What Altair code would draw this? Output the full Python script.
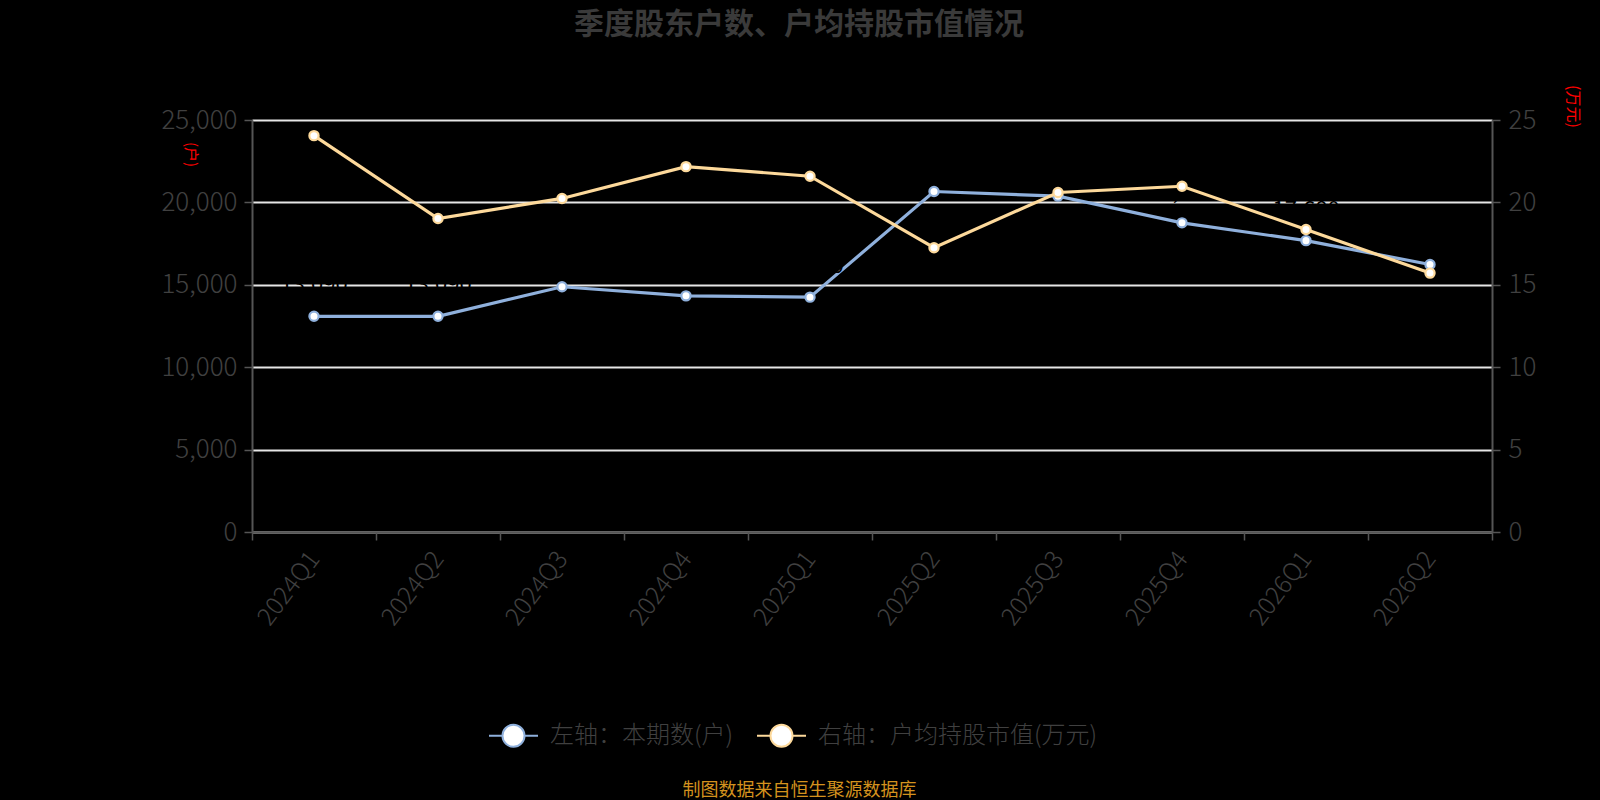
import altair as alt
import pandas as pd
import jinja2

quarters = ["2024Q1", "2024Q2", "2024Q3", "2024Q4", "2025Q1",
            "2025Q2", "2025Q3", "2025Q4", "2026Q1", "2026Q2"]
households = [13090, 13090, 14880, 14330, 14250, 20660, 20380, 18760, 17680, 16230]
avg_value = [24.05, 19.02, 20.24, 22.17, 21.59, 17.25, 20.60, 20.98, 18.36, 15.71]

series_names = ["左轴：本期数(户)", "右轴：户均持股市值(万元)"]
series_colors = ["#8fb0dc", "#fdd99b"]

title_text = "季度股东户数、户均持股市值情况"
footer_text = "制图数据来自恒生聚源数据库"

df = pd.DataFrame({"q": quarters, "h": households, "v": avg_value})

FONT = "Noto Sans CJK SC"
TXT = "#404040"
AX = "#555555"

x_enc = alt.X(
    "q:N", sort=quarters,
    scale=alt.Scale(type="band", paddingInner=0, paddingOuter=0),
    axis=alt.Axis(
        title=footer_text, titleColor="#d4921e", titleFont=FONT, titleFontSize=18,
        titleFontWeight="normal", titleX=547, titleY=258, titleAlign="center",
        titleBaseline="middle",
        labelAngle=-53, labelFontSize=25, labelColor=TXT, labelFont=FONT,
        labelFontWeight=300, labelPadding=14,
        tickBand="extent", tickSize=8, tickColor=AX, tickWidth=1.5,
        domainColor=AX, domainWidth=2, grid=False,
    ),
)

color_scale = alt.Scale(domain=series_names, range=series_colors)
legend_symbol = ("M-1,0L-0.45,0M0.45,0L1,0M0.45,0A0.45,0.45,0,1,1,-0.45,0"
                 "A0.45,0.45,0,1,1,0.45,0Z")
legend = alt.Legend(
    title=None, orient="none", legendX=236, legendY=590, direction="horizontal",
    symbolType=legend_symbol, symbolSize=2401, symbolStrokeWidth=2,
    symbolFillColor="white", labelFontSize=24, labelColor=TXT, labelFont=FONT,
    labelFontWeight=300, columnPadding=19, labelOffset=11, labelLimit=0,
)
color_enc = alt.Color("s:N", scale=color_scale, legend=legend)

left_y = alt.Y(
    "h:Q", scale=alt.Scale(domain=[0, 25000]),
    axis=alt.Axis(
        orient="left", values=[0, 5000, 10000, 15000, 20000, 25000], format=",.0f",
        title="(户)", titleColor="red", titleFont=FONT, titleFontSize=15,
        titleFontWeight="normal", titleAngle=90, titleX=-62, titleY=34,
        titleAlign="center", titleBaseline="middle",
        labelFontSize=26, labelColor=TXT, labelFont=FONT, labelFontWeight=300,
        labelPadding=7, tickSize=8, tickColor=AX, tickWidth=1.5,
        domainColor=AX, domainWidth=2,
        grid=True, gridColor="#e6e6e6", gridWidth=1.8,
    ),
)
right_y = alt.Y(
    "v:Q", scale=alt.Scale(domain=[0, 25]),
    axis=alt.Axis(
        orient="right", values=[0, 5, 10, 15, 20, 25], format="d",
        title="(万元)", titleColor="red", titleFont=FONT, titleFontSize=16,
        titleFontWeight="normal", titleAngle=90, titleX=80, titleY=-14,
        titleAlign="center", titleBaseline="middle",
        labelFontSize=26, labelColor=TXT, labelFont=FONT, labelFontWeight=300,
        labelPadding=8, tickSize=8, tickColor=AX, tickWidth=1.5,
        domainColor=AX, domainWidth=2, grid=False,
    ),
)

base = alt.Chart(df)

left_base = base.transform_calculate(s=f"'{series_names[0]}'").encode(x=x_enc, y=left_y)
left_line = left_base.mark_line(strokeWidth=3.2).encode(color=color_enc)
left_pts = left_base.mark_point(filled=False, fill="white", size=85, strokeWidth=2.2,
                                opacity=1).encode(color=color_enc)
left_txt = left_base.mark_text(dy=-31, fontSize=22, color="black", font=FONT).encode(
    text=alt.Text("h:Q", format=","))
left = alt.layer(left_line, left_pts, left_txt)

right_base = base.transform_calculate(s=f"'{series_names[1]}'").encode(x=x_enc, y=right_y)
right_line = right_base.mark_line(strokeWidth=3.2).encode(color=color_enc)
right_pts = right_base.mark_point(filled=False, fill="white", size=85, strokeWidth=2.2,
                                  opacity=1).encode(color=color_enc)
right = alt.layer(right_line, right_pts)

chart = alt.layer(left, right).resolve_scale(y="independent").properties(
    width=1240, height=412,
    autosize=alt.AutoSizeParams(type="none"),
    padding={"left": 252, "top": 120, "right": 108, "bottom": 268},
    background="black",
    title=alt.TitleParams(title_text, font=FONT, fontSize=30, fontWeight="bold",
                          color="#3a3a3a", anchor="middle", dx=-73, offset=45),
).configure_view(stroke=None)

PAGE = jinja2.Template("""<!DOCTYPE html>
<html>
<head>
  <meta charset="utf-8">
  <style>
    html, body { background: #000000; overflow: hidden; margin: 0; padding: 0; }
    #{{ output_div }}.vega-embed { width: 100%; display: flex; }
  </style>
  <script type="text/javascript" src="{{ base_url }}/vega@{{ vega_version }}"></script>
  <script type="text/javascript" src="{{ base_url }}/vega-lite@{{ vegalite_version }}"></script>
  <script type="text/javascript" src="{{ base_url }}/vega-embed@{{ vegaembed_version }}"></script>
</head>
<body>
  <div id="{{ output_div }}"></div>
  <script>
    (function(vegaEmbed) {
      var spec = {{ spec }};
      var embedOpt = {{ embed_options }};
      const el = document.getElementById('{{ output_div }}');
      vegaEmbed("#{{ output_div }}", spec, embedOpt).catch(function(error) {
        el.innerHTML = '<div style="color:red;">' + error.message + '</div>';
      });
    })(vegaEmbed);
  </script>
</body>
</html>""")

chart.save("out.html", embed_options={"renderer": "svg", "actions": False}, template=PAGE)
